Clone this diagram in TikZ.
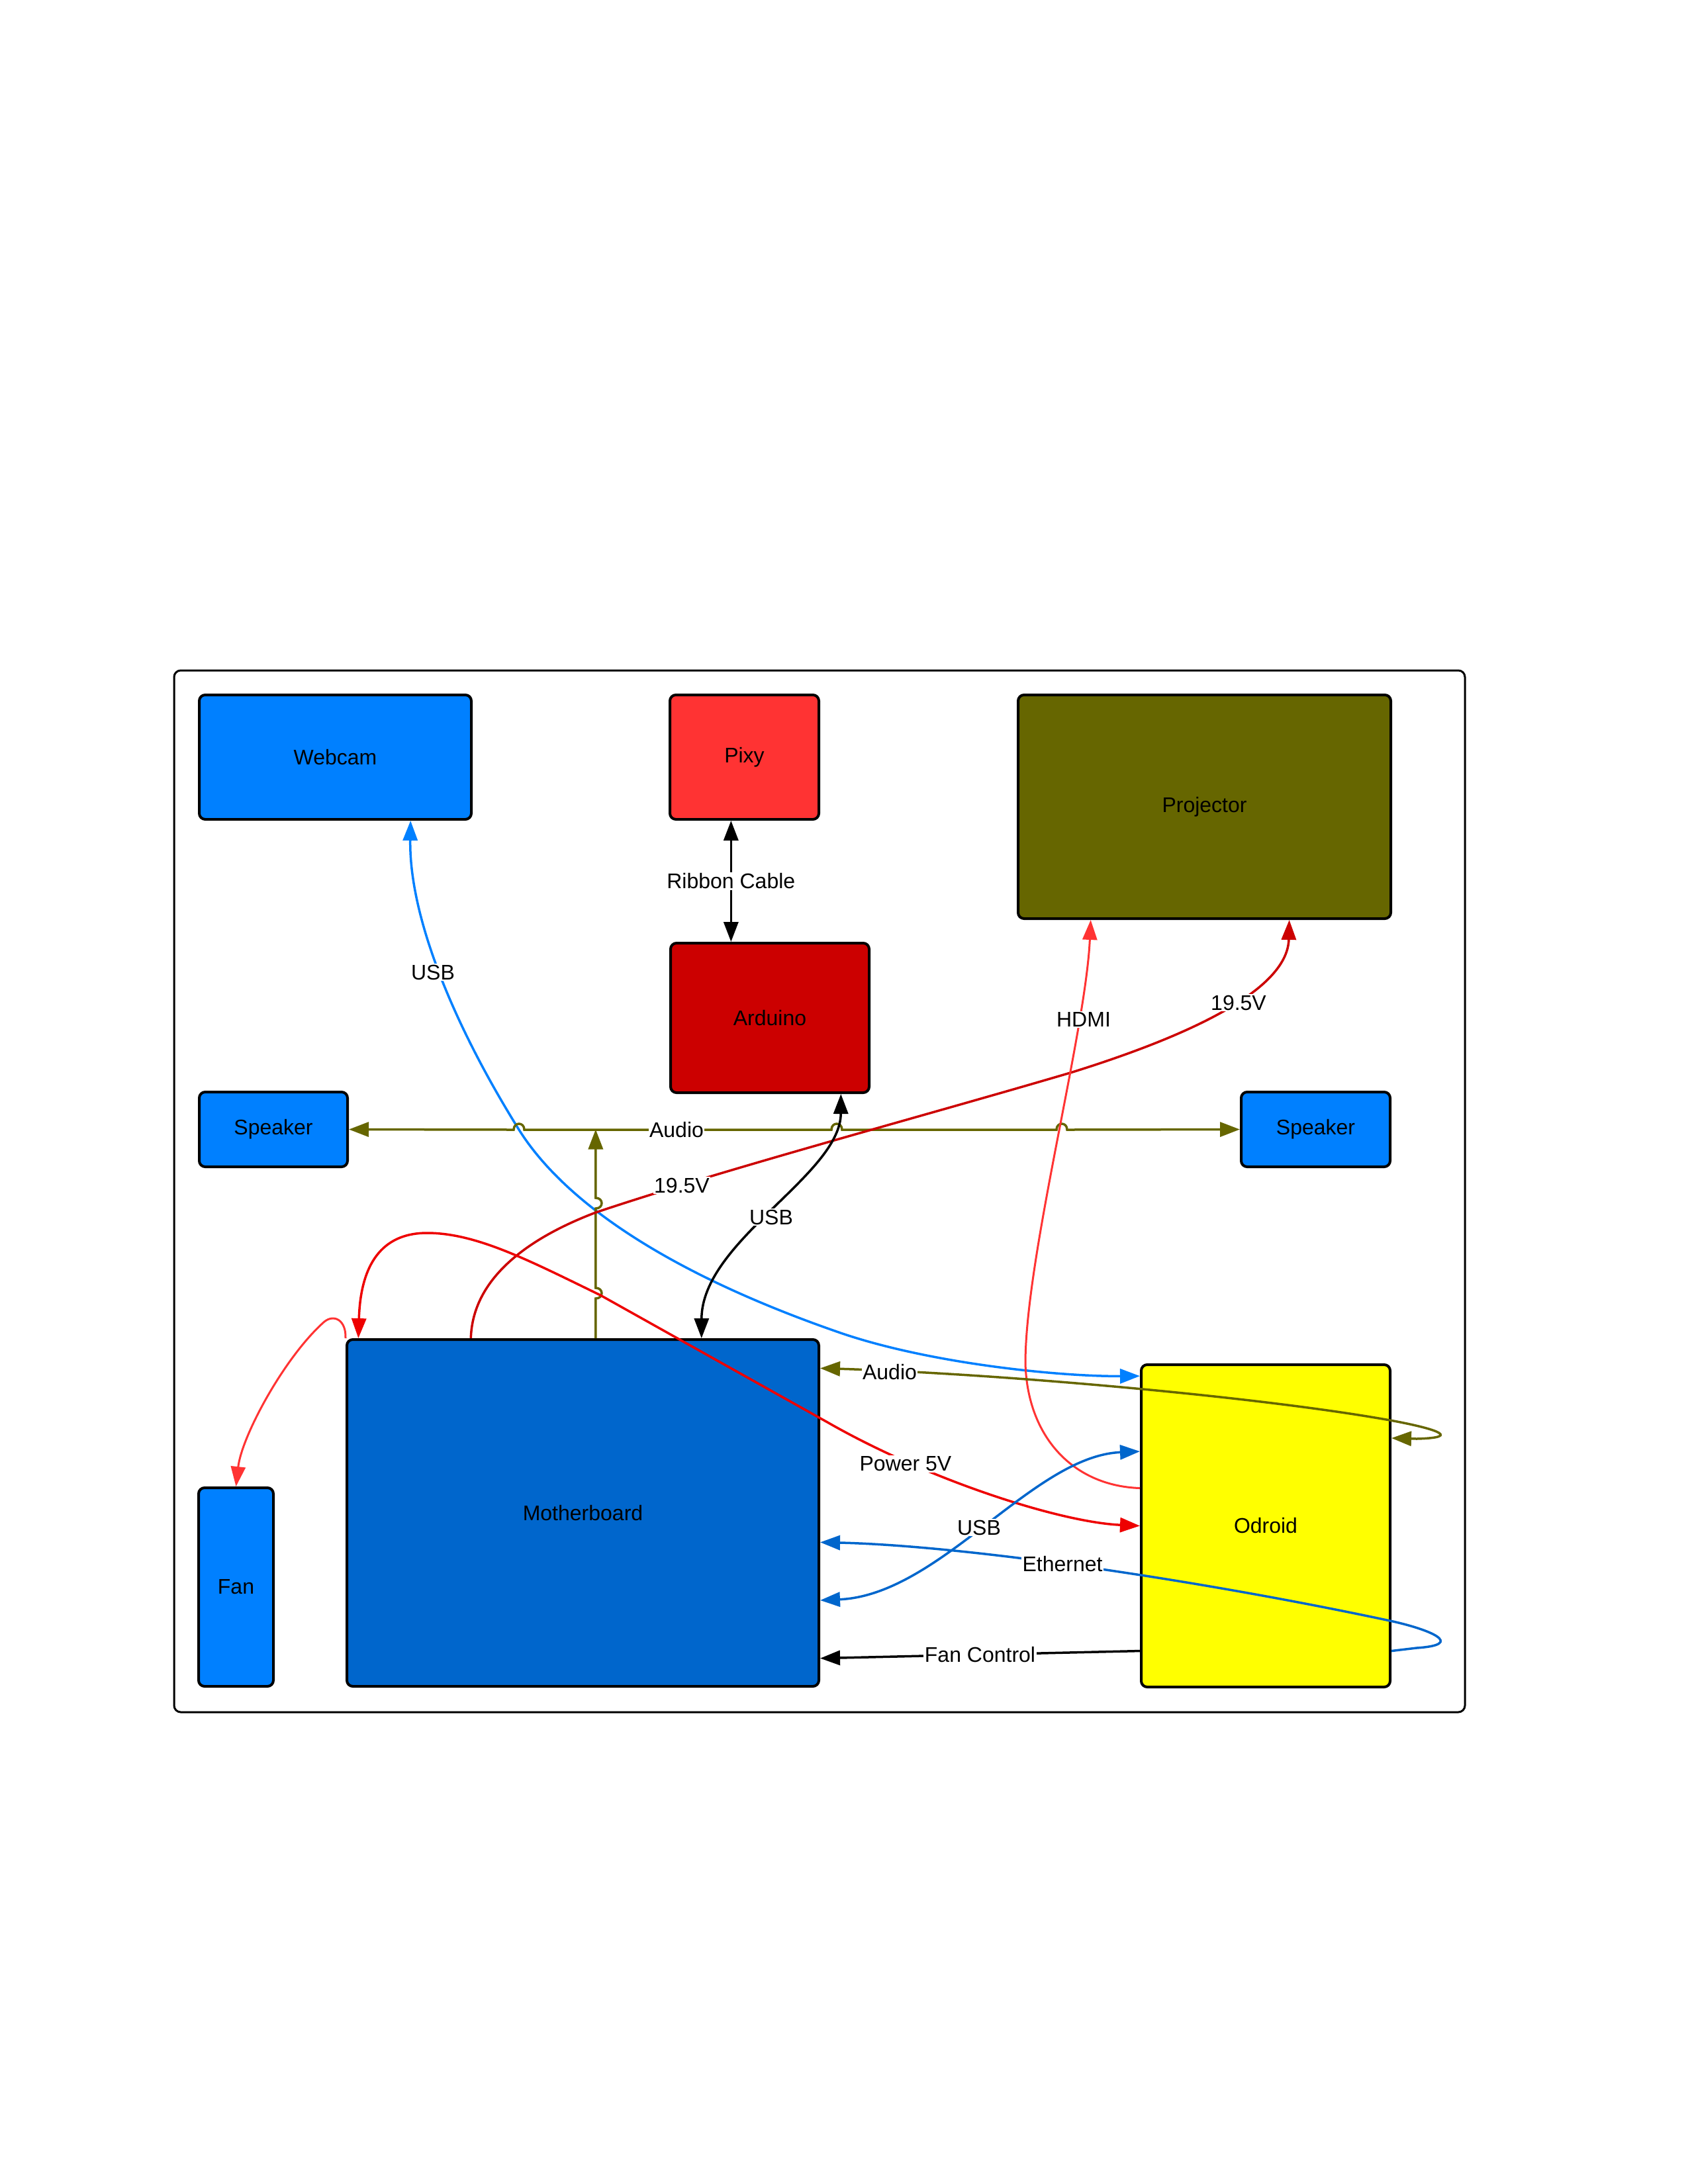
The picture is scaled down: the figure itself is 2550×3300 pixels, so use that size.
\documentclass[tikz,border=0pt]{standalone}
\usepackage{fontspec}
\setmainfont{Liberation Sans}
\usetikzlibrary{arrows.meta,calc}
\definecolor{cBlue}{HTML}{0080FF}
\definecolor{cMB}{HTML}{0066CC}
\definecolor{cPixy}{HTML}{FF3333}
\definecolor{cArd}{HTML}{CC0000}
\definecolor{cOlive}{HTML}{666600}
\definecolor{cYel}{HTML}{FFFF00}
\definecolor{cRed}{HTML}{EE0000}
\begin{document}
\begin{tikzpicture}[x=1pt,y=-1pt,
  box/.style={draw=black,line width=4pt,rounded corners=9pt,inner sep=0pt,text=black,font=\fontsize{32}{38}\selectfont},
  lbl/.style={fill=white,inner sep=1.5pt,text=black,font=\fontsize{32}{38}\selectfont},
  conn/.style={line width=3.5pt,>={Triangle[length=30pt,width=22pt]}},
  thinconn/.style={line width=3pt,>={Triangle[length=30pt,width=22pt]}}]
\fill[white] (0,0) rectangle (2550,3300);
\useasboundingbox (0,0) rectangle (2550,3300);
% frame
\node[draw=black,line width=3pt,rounded corners=10pt,minimum width=1950pt,minimum height=1574pt,inner sep=0pt] (frame) at (1238,1800) {};
% nodes
\node[box,fill=cBlue,minimum width=411pt,minimum height=188pt] (webcam) at (506.5,1144) {Webcam};
\node[box,fill=cPixy,minimum width=225pt,minimum height=188pt] (pixy) at (1124.5,1144) {Pixy};
\node[box,fill=cOlive,minimum width=563pt,minimum height=338pt] (projector) at (1819.5,1219) {Projector};
\node[box,fill=cArd,minimum width=300pt,minimum height=226pt] (arduino) at (1163,1538) {Arduino};
\node[box,fill=cBlue,minimum width=224pt,minimum height=113pt] (spkL) at (413,1706.5) {Speaker};
\node[box,fill=cBlue,minimum width=225pt,minimum height=113pt] (spkR) at (1987.5,1706.5) {Speaker};
\node[box,fill=cMB,minimum width=713pt,minimum height=524pt] (mb) at (880.5,2286) {Motherboard};
\node[box,fill=cBlue,minimum width=113pt,minimum height=300pt] (fan) at (356.5,2398) {Fan};
\node[box,fill=cYel,minimum width=376pt,minimum height=487pt] (odroid) at (1912,2305.5) {Odroid};
% anchor points
\coordinate (wUa) at ($(odroid.north west)!0.039!(odroid.south west)$);
\coordinate (wUb) at ($(webcam.south west)!0.774!(webcam.south east)$);
\coordinate (ribB) at ($(arduino.north west)!0.307!(arduino.north east)$);
\coordinate (mbA) at ($(mb.north west)!0.527!(mb.north east)$);
\coordinate (pA) at ($(mb.north west)!0.264!(mb.north east)$);
\coordinate (pB) at ($(projector.south west)!0.726!(projector.south east)$);
\coordinate (aU) at ($(arduino.south west)!0.853!(arduino.south east)$);
\coordinate (mbU) at ($(mb.north west)!0.75!(mb.north east)$);
\coordinate (odH) at ($(odroid.north west)!0.384!(odroid.south west)$);
\coordinate (prH) at ($(projector.south west)!0.197!(projector.south east)$);
\coordinate (p5a) at ($(mb.north west)!0.027!(mb.north east)$);
\coordinate (mbAu) at ($(mb.north east)!0.086!(mb.south east)$);
\coordinate (odAu) at ($(odroid.north east)!0.23!(odroid.south east)$);
\coordinate (odU) at ($(odroid.north west)!0.271!(odroid.south west)$);
\coordinate (mbU2) at ($(mb.north east)!0.75!(mb.south east)$);
\coordinate (mbE) at ($(mb.north east)!0.584!(mb.south east)$);
\coordinate (odE) at ($(odroid.north east)!0.885!(odroid.south east)$);
\coordinate (odFC) at ($(odroid.north west)!0.885!(odroid.south west)$);
\coordinate (mbFC) at ($(mb.north east)!0.916!(mb.south east)$);
% connectors
% Webcam USB
\draw[conn,cBlue,<->] (wUb) .. controls (618,1380) and (680,1540) .. (784,1707)
  .. controls (850,1812) and (1000,1920) .. (1264,2012)
  .. controls (1400,2060) and (1600,2080) .. (wUa);
% Ribbon cable
\draw[conn,black,<->] (ribB |- pixy.south) -- node[lbl] (lRib) {Ribbon Cable} (ribB);
% Audio speakers (with line jumps)
\draw[conn,cOlive,<->] (spkL.east) -- (776,1707) .. controls (776,1695) and (792,1695) .. (792,1707)
  -- (1256,1707) .. controls (1256,1695) and (1272,1695) .. (1272,1707)
  -- (1596,1707) .. controls (1596,1695) and (1612,1695) .. (1612,1707) -- (spkR.west);
\node[lbl] (lAud1) at (1022,1707) {Audio};
\draw[conn,cOlive,->] (mbA) -- (mbA |- 0,1962) .. controls (912,1962) and (912,1946) .. (mbA |- 0,1946)
  -- (mbA |- 0,1826) .. controls (912,1826) and (912,1810) .. (mbA |- 0,1810)
  -- (mbA |- spkL.east);
% 19.5V
\draw[conn,cArd,->] (pA) .. controls (714,1930) and (800,1870) .. (900,1832)
  .. controls (1100,1765) and (1400,1685) .. (1620,1620)
  .. controls (1780,1570) and (1945,1500) .. (pB);
% USB Arduino - Motherboard
\draw[conn,black,<->] (aU) .. controls (1270,1775) and (1060,1875) .. (mbU);
% HDMI
\draw[thinconn,cPixy,->] (odH) .. controls (1620,2245) and (1552,2170) .. (1549,2060)
  .. controls (1549,1900) and (1640,1560) .. (prH);
% Power 5V
\draw[conn,cRed,<->] (p5a) .. controls (545,1900) and (585,1863) .. (645,1863)
  .. controls (720,1863) and (800,1905) .. (907,1957)
  -- (1250,2149) .. controls (1400,2235) and (1600,2300) .. (odroid.west);
% Fan
\draw[thinconn,cPixy,->] (mb.north west) .. controls (523,1995) and (505,1985) .. (490,1997)
  .. controls (430,2050) and (365,2170) .. (fan.north);
% Audio Odroid - Motherboard
\draw[conn,cOlive,<->] (mbAu) .. controls (1500,2075) and (1900,2110) .. (2100,2146)
  .. controls (2160,2157) and (2215,2172) .. (2140,2174) -- (odAu);
% USB Odroid - Motherboard
\draw[conn,cMB,<->] (odU) .. controls (1560,2200) and (1420,2410) .. (mbU2);
% Ethernet
\draw[conn,cMB,<-] (mbE) .. controls (1450,2335) and (1800,2385) .. (2100,2449)
  .. controls (2160,2462) and (2215,2485) .. (2140,2490) -- (odE);
% Fan control
\draw[conn,black,->] (odFC) -- node[lbl] (lFC) {Fan Control} (mbFC);
% labels
\node[lbl] (lUSB1) at (654,1469) {USB};
\node[lbl] (lV1) at (1030,1791) {19.5V};
\node[lbl] (lV2) at (1871,1515) {19.5V};
\node[lbl] (lUSB2) at (1165,1839) {USB};
\node[lbl] (lHDMI) at (1637,1540) {HDMI};
\node[lbl] (lP5) at (1368,2212) {Power 5V};
\node[lbl] (lAud2) at (1344,2073) {Audio};
\node[lbl] (lUSB3) at (1479,2308) {USB};
\node[lbl] (lEth) at (1605,2363) {Ethernet};
\end{tikzpicture}
\end{document}
